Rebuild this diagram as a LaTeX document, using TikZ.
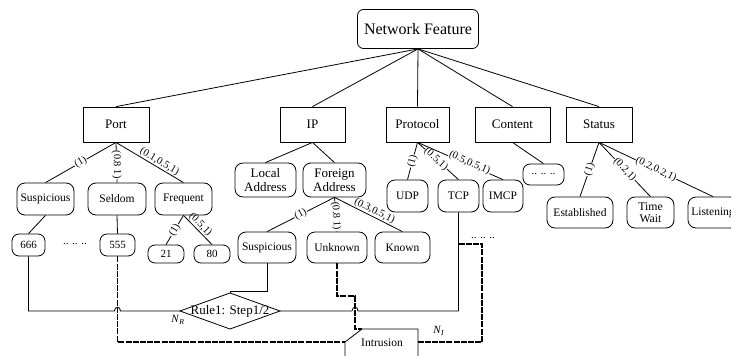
\documentclass[tikz,border=0pt]{standalone}
\usepackage{fontspec}
\setmainfont{Liberation Serif}
\begin{document}
\begin{tikzpicture}[x=1pt,y=-1pt, line width=0.8pt,
 topbox/.style={draw, rounded corners=6pt, minimum width=121pt, minimum height=39pt, font=\fontsize{16}{18}\selectfont},
 cat/.style={draw, minimum height=35pt, inner sep=1pt, font=\fontsize{13}{15}\selectfont},
 leaf/.style={draw, rounded corners=8pt, minimum height=32pt, inner sep=1pt, align=center, font=\fontsize{11.5}{13}\selectfont},
 leaftwo/.style={leaf, minimum height=34pt, font=\fontsize{13}{14}\selectfont},
 val/.style={draw, rounded corners=7pt, minimum height=22pt, inner sep=1pt, font=\fontsize{11}{12}\selectfont},
 lab/.style={sloped, fill=white, inner sep=0.6pt, font=\fontsize{10.5}{11}\selectfont},
 labup/.style={sloped, above, inner sep=0.6pt, font=\fontsize{10.5}{11}\selectfont},
 plain/.style={inner sep=0pt, font=\fontsize{11}{12}\selectfont},
 dashline/.style={line width=1.1pt, dash pattern=on 6pt off 1.2pt}
]
\clip (0,0) rectangle (731,356);
\fill[white] (0,0) rectangle (731,356);
% top
\node[topbox] (nf) at (418,29) {Network Feature};
% categories
\node[cat, minimum width=66pt] (port) at (116,124.5) {Port};
\node[cat, minimum width=65pt] (ip) at (312.5,124.5) {IP};
\node[cat, minimum width=63pt] (proto) at (417.5,124.5) {Protocol};
\node[cat, minimum width=75pt] (content) at (512.5,124.5) {Content};
\node[cat, minimum width=66pt] (status) at (599,124.5) {Status};
% third level
\node[leaf, minimum width=57pt] (susP) at (45.5,199) {Suspicious};
\node[leaf, minimum width=58pt] (seldom) at (117,199) {Seldom};
\node[leaf, minimum width=57pt] (freq) at (183.5,199) {Frequent};
\node[leaftwo, minimum width=61pt] (local) at (265.5,180) {Local\\Address};
\node[leaftwo, minimum width=63pt] (foreign) at (334.5,180) {Foreign\\Address};
\node[leaf, minimum width=41pt] (udp) at (407.5,196) {UDP};
\node[leaf, minimum width=41pt] (tcp) at (458.5,196) {TCP};
\node[leaf, minimum width=40pt] (imcp) at (503,196) {IMCP};
\node[val, minimum width=41pt, minimum height=21pt] (cdots) at (543.5,174.5) {.. .. ..};
\node[leaf, minimum width=66pt, minimum height=31pt] (estab) at (580,212.5) {Established};
\node[leaf, minimum width=47pt, minimum height=31pt, font=\fontsize{11.8}{12.5}\selectfont] (twait) at (650.5,212.5) {Time\\Wait};
\node[leaf, minimum width=50pt, minimum height=31pt] (listen) at (713,212.5) {Listening};
% fourth level
\node[val, minimum width=33pt] (v666) at (28.5,245) {666};
\node[plain] (pdots) at (75,244) {.. .. ..};
\node[val, minimum width=35pt] (v555) at (117.5,245) {555};
\node[val, minimum width=36pt, minimum height=18pt] (v21) at (166,254) {21};
\node[val, minimum width=36pt, minimum height=18pt] (v80) at (212,254) {80};
\node[leaf, minimum width=58pt, minimum height=31pt] (susI) at (267,247.5) {Suspicious};
\node[leaf, minimum width=60pt, minimum height=31pt] (unknown) at (337,247.5) {Unknown};
\node[leaf, minimum width=55pt, minimum height=31pt] (known) at (402.5,247.5) {Known};
\node[plain] (tdots) at (483,238) {.. .. ..};
% tree edges
\foreach \c in {port,ip,proto,content,status} \draw (nf.south) -- (\c.north);
\draw (port.south) -- node[lab, pos=0.5] {(1)} (susP.north);
\draw (port.south) -- node[lab, pos=0.55] {(0.8 1)} (seldom.north);
\draw (port.south) -- node[labup, pos=0.6] {(0.1,0.5,1)} (freq.north);
\draw (susP.south) -- (v666.north);
\draw (seldom.south) -- (v555.north);
\draw (freq.south) -- node[lab, pos=0.5] {(1)} (v21.north);
\draw (freq.south) -- node[labup, pos=0.45] {(0.5,1)} (v80.north);
\draw (ip.south) -- (local.north);
\draw (ip.south) -- (foreign.north);
\draw (foreign.south) -- node[lab, pos=0.5] {(1)} (susI.north);
\draw (foreign.south) -- node[lab, pos=0.55] {(0.8 1)} (unknown.north);
\draw (foreign.south) -- node[labup, pos=0.55] {(0.3,0.5,1)} (known.north);
\draw (proto.south) -- node[lab, pos=0.5] {(1)} (udp.north);
\draw (proto.south) -- node[lab, pos=0.45] {(0.5,1)} (tcp.north);
\draw (proto.south) -- node[lab, pos=0.6, yshift=2pt] {(0.5,0.5,1)} (imcp.north);
\draw (content.south) -- (cdots.north);
\draw (status.south) -- node[lab, pos=0.5] {(1)} (estab.north);
\draw (status.south) -- node[lab, pos=0.5] {(0.2,1)} (twait.north);
\draw (status.south) -- node[lab, pos=0.5] {(0.2,0.2,1)} (listen.north);
% rule diamond
\coordinate (rW) at (180,311);
\coordinate (rN) at (230,293);
\coordinate (rE) at (280,311);
\coordinate (rS) at (230,329);
\draw (rW) -- (rN) -- (rE) -- (rS) -- cycle;
\node[inner sep=0pt, font=\fontsize{13}{14}\selectfont] (rule) at (230,311) {Rule1: Step1/2};
% intrusion
\coordinate (iBL) at (345,362);
\coordinate (iL) at (345,342);
\coordinate (iT) at (362,329);
\coordinate (iTR) at (418,329);
\coordinate (iR) at (418,342);
\coordinate (iBR) at (418,362);
\draw (iBL) -- (iL) -- (iT) -- (iTR) -- (iBR);
\node[inner sep=0pt, font=\fontsize{11.5}{13}\selectfont] (intr) at (382,343) {Intrusion};
% labels
\node[inner sep=0pt, font=\fontsize{11}{12}\selectfont] (nr) at (178,320) {\textit{N}\textsubscript{\textit{R}}};
\node[inner sep=0pt, font=\fontsize{11}{12}\selectfont] (ni) at (439,331) {\textit{N}\textsubscript{\textit{I}}};
% solid connectors
\draw (v666.south) -- (28.5,311) -- (114.5,311) .. controls (114.5,306) and (120.5,306) .. (120.5,311) -- (rW);
\draw (rE) -- (352,311) .. controls (352,306) and (358,306) .. (358,311) -- (458.5,311) -- (tcp.south);
\draw (susI.south) -- (267,291) -- (230,291) -- (rN);
% dashed connectors
\draw[dashline] (v555.south) -- (117.5,342) -- (iL);
\draw[dashline] (unknown.south) -- (337,296) -- (355,296) -- (355,329) -- (iT);
\draw[dashline] (458.5,244) -- (482,244) -- (482,342) -- (iR);
\end{tikzpicture}
\end{document}
